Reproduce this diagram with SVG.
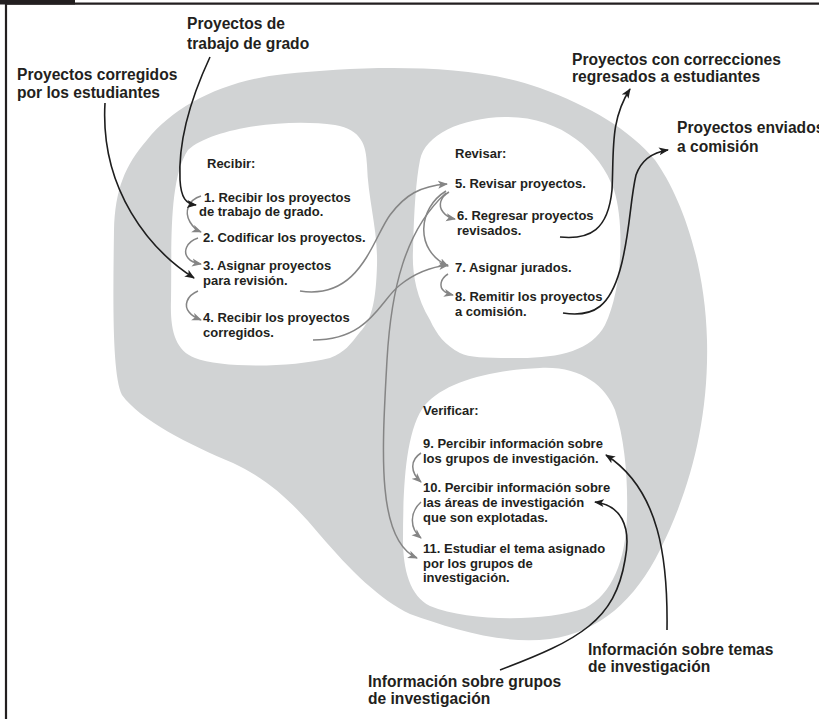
<svg xmlns="http://www.w3.org/2000/svg" width="819" height="719" viewBox="0 0 819 719">
  <defs>
    <marker id="headDark" markerUnits="userSpaceOnUse" markerWidth="11" markerHeight="9" refX="9" refY="4.5" orient="auto">
      <path d="M0,0.5 L10,4.5 L0,8.5 L2.5,4.5 Z" fill="#1e1e1e"/>
    </marker>
    <marker id="headGrey" markerUnits="userSpaceOnUse" markerWidth="11" markerHeight="9" refX="9" refY="4.5" orient="auto">
      <path d="M0,0.5 L10,4.5 L0,8.5 L2.5,4.5 Z" fill="#858585"/>
    </marker>
  </defs>
  <style>
    .frame { fill: none; stroke: #231f20; stroke-width: 2.2; }
    .region { fill: #d1d3d4; }
    .cell { fill: #ffffff; }
    .item { font-family: "Liberation Sans", Arial, sans-serif; font-weight: bold; font-size: 13px; fill: #231f20; }
    .label { font-family: "Liberation Sans", Arial, sans-serif; font-weight: bold; font-size: 15.6px; fill: #231f20; }
    .flow { fill: none; stroke: #858585; stroke-width: 1.5; marker-end: url(#headGrey); }
    .io { fill: none; stroke: #1e1e1e; stroke-width: 1.6; marker-end: url(#headDark); }
  </style>

  <rect width="819" height="719" fill="#ffffff"/>

  <!-- page frame -->
  <g id="frame">
    <rect x="0" y="0" width="75" height="4.5" fill="#231f20"/>
    <path class="frame" d="M6,719 V3.6 H819"/>
  </g>

  <!-- system boundary -->
  <g id="system">
    <path class="region" d="M147,140 C175,105 225,80 285,74 C360,66 470,62 540,88 C590,106 630,130 655,160 C680,195 705,260 707,340 C709,420 690,490 660,550 C635,600 600,632 550,639 C500,645 450,628 410,614 C380,600 350,570 320,535 C295,505 270,480 233,463 C190,445 140,420 122,395 C112,375 113,300 114,230 C115,190 125,165 147,140 Z"/>
  </g>

  <!-- process: Recibir -->
  <g id="recibir">
    <path class="cell" d="M188,150 C212,128 285,118 335,125 C362,130 366,145 367,165 C368,200 378,230 377,265 C376,300 372,320 360,332 C350,345 345,352 330,358 C290,368 220,368 195,358 C175,350 170,330 171,300 C172,250 168,180 188,150 Z"/>
    <text class="item" x="207" y="168">Recibir:</text>
    <text class="item" x="204" y="202">1. Recibir los proyectos</text>
    <text class="item" x="199" y="216">de trabajo de grado.</text>
    <text class="item" x="203" y="242">2. Codificar los proyectos.</text>
    <text class="item" x="203" y="270">3. Asignar proyectos</text>
    <text class="item" x="203" y="285">para revisión.</text>
    <text class="item" x="203" y="322">4. Recibir los proyectos</text>
    <text class="item" x="203" y="337">corregidos.</text>
  </g>

  <!-- process: Revisar -->
  <g id="revisar">
    <path class="cell" d="M420,160 C425,135 460,118 505,117 C560,116 600,150 614,190 C625,225 622,290 605,325 C592,350 560,358 520,358 C490,358 470,358 460,353 C445,345 437,335 430,320 C415,295 412,270 413,250 C414,210 416,180 420,160 Z"/>
    <text class="item" x="455" y="158">Revisar:</text>
    <text class="item" x="455" y="188">5. Revisar proyectos.</text>
    <text class="item" x="457" y="220">6. Regresar proyectos</text>
    <text class="item" x="457" y="235">revisados.</text>
    <text class="item" x="455" y="272">7. Asignar jurados.</text>
    <text class="item" x="455" y="301">8. Remitir los proyectos</text>
    <text class="item" x="455" y="316">a comisión.</text>
  </g>

  <!-- process: Verificar -->
  <g id="verificar">
    <path class="cell" d="M425,405 C445,382 490,370 540,368 C580,366 605,385 615,410 C625,440 628,480 627,515 C626,560 612,595 585,608 C545,622 470,622 430,606 C410,596 403,570 403,540 C403,490 405,430 425,405 Z"/>
    <text class="item" x="423" y="415">Verificar:</text>
    <text class="item" x="423" y="448">9. Percibir información sobre</text>
    <text class="item" x="423" y="463">los grupos de investigación.</text>
    <text class="item" x="423" y="492">10. Percibir información sobre</text>
    <text class="item" x="423" y="507">las áreas de investigación</text>
    <text class="item" x="423" y="522">que son explotadas.</text>
    <text class="item" x="423" y="553">11. Estudiar el tema asignado</text>
    <text class="item" x="423" y="568">por los grupos de</text>
    <text class="item" x="423" y="582">investigación.</text>
  </g>

  <!-- external flows -->
  <g id="in-trabajo">
    <text class="label" x="187" y="29">Proyectos de</text>
    <text class="label" x="187" y="49">trabajo de grado</text>
  </g>
  <g id="in-corregidos">
    <text class="label" x="17" y="80">Proyectos corregidos</text>
    <text class="label" x="17" y="98">por los estudiantes</text>
  </g>
  <g id="out-correcciones">
    <text class="label" x="572" y="65">Proyectos con correcciones</text>
    <text class="label" x="572" y="82">regresados a estudiantes</text>
  </g>
  <g id="out-comision">
    <text class="label" x="677" y="133">Proyectos enviados</text>
    <text class="label" x="677" y="152">a comisión</text>
  </g>
  <g id="in-temas">
    <text class="label" x="588" y="655">Información sobre temas</text>
    <text class="label" x="588" y="672">de investigación</text>
  </g>
  <g id="in-grupos">
    <text class="label" x="368" y="687">Información sobre grupos</text>
    <text class="label" x="368" y="704">de investigación</text>
  </g>

  <!-- connectors -->
  <g id="connectors">
    <!-- steps inside Recibir -->
    <path class="flow" d="M201,196 C188,200 184,212 190,222 C193,227 196,230 201,232"/>
    <path class="flow" d="M198,238 C186,242 183,252 188,258 C191,262 195,263 201,264"/>
    <path class="flow" d="M198,291 C186,296 184,306 189,312 C192,316 196,318 201,320"/>
    <!-- Recibir to Revisar -->
    <path class="flow" d="M300,291 C360,300 372,240 390,215 C405,195 420,186 447,184"/>
    <path class="flow" d="M313,340 C370,340 380,300 400,285 C415,273 430,267 448,265"/>
    <!-- steps inside Revisar -->
    <path class="flow" d="M449,192 C440,197 438,206 443,212 C446,216 450,218 455,219"/>
    <path class="flow" d="M446,191 C418,208 414,250 448,266"/>
    <path class="flow" d="M448,274 C440,279 439,287 444,291 C446,293 449,294 453,295"/>
    <!-- Revisar to Verificar -->
    <path class="flow" d="M446,193 C405,230 391,290 387,360 C382,450 376,540 417,558"/>
    <!-- steps inside Verificar -->
    <path class="flow" d="M421,453 C410,460 410,472 421,482"/>
    <path class="flow" d="M421,502 C410,512 409,528 421,538"/>

    <!-- inputs -->
    <path class="io" d="M210,57 C190,100 178,140 180,180 C181,198 186,204 196,205"/>
    <path class="io" d="M105,103 C100,190 150,250 194,278"/>
    <path class="io" d="M667,630 C668,560 660,490 606,455"/>
    <path class="io" d="M500,670 C580,640 615,620 625,560 C632,525 620,505 595,502"/>
    <!-- outputs -->
    <path class="io" d="M560,237 C590,240 608,230 612,190 C614,150 610,120 630,89"/>
    <path class="io" d="M563,313 C595,318 610,305 620,270 C630,235 630,200 636,175 C642,158 655,152 668,150"/>
  </g>
</svg>
